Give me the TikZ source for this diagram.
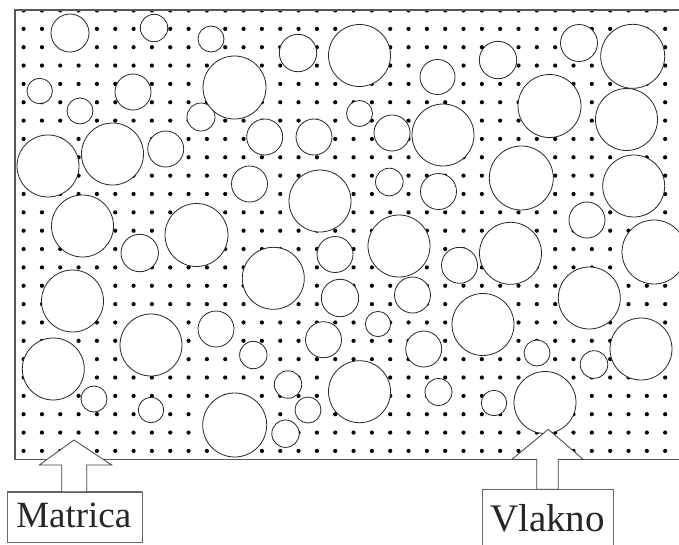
\documentclass[tikz,border=0pt]{standalone}
\usepackage{fontspec}
\setmainfont{Liberation Serif}
\begin{document}
\begin{tikzpicture}[x=1pt,y=-1pt,
  fib/.style={draw=black!85, fill=white, line width=0.8pt},
  border/.style={draw=black!65, line width=1.2pt},
  labelbox/.style={draw=black!60, fill=white, line width=1pt, inner sep=0pt},
  blockarrow/.style={draw=black!75, fill=white, line width=0.8pt, line join=miter},
  labeltext/.style={inner sep=0pt, text=black!85}]
\useasboundingbox (0,0) rectangle (679,544);
% dot grid (matrix)
\begin{scope}
  \clip (15,10) rectangle (679,459.5);
  \foreach \i in {0,...,35}{
    \foreach \j in {0,...,24}{
      \fill (23.6+18.33*\i, 10.5+18.35*\j) circle (2.1pt);
    }
  }
\end{scope}
% fibres
\foreach \cx/\cy/\r in {
70/33/19, 154/28/13.7, 211/39/13, 298/53/18.7, 359.5/55.5/31, 437.5/77/17.5, 498/60/18.7, 579/43/18.5, 632.7/56.3/32,
39.7/91/12.7, 80/111/13, 133/92/18, 201/117/14, 234.5/87.5/31.5, 264.7/137/18, 314/137/18, 359.5/113.5/13, 392/133/18, 443/135/31, 549.5/106/31.5, 626.5/119.5/31,
48/166/31, 112.5/154/31, 165.7/149/18, 249.5/184/18, 320/201/31, 389.3/182/13.8, 438.5/191.5/18, 521.3/178/32, 633.7/186/31,
82.5/226/31, 139.7/253/18.7, 196.5/235/31.5, 273.3/278.3/31, 335/254.5/18, 399/246/31, 459.5/265.3/18, 510.5/253.3/31, 587/220/18, 654/252/32,
72.5/301/31, 151/345/31, 216/329/18, 323.5/339.7/18, 340/298/18.7, 378/324/12.6, 412.5/295/18, 423.7/349/18, 483/324.5/31, 589.3/298/31, 641/349/31,
53.3/369/31, 94/399/13, 151/410/12.7, 234.7/425/32, 253.3/355/13.7, 288/384.5/13.7, 308/410/13, 285.5/433.7/13.7, 359.5/391.7/31, 438.5/392/13.5, 494/403/12.7, 537/353/13, 545/402.5/31, 594/364.5/13.8}{
  \draw[fib] (\cx,\cy) circle[radius=\r pt];
}
% border of the composite (open on the right)
\draw[border] (690,10) -- (15,10) -- (15,459.5) -- (690,459.5);
% label boxes
\node[labelbox, minimum width=134.4pt, minimum height=50pt, anchor=north west] (matbox) at (7.3,491.7) {};
\node[labeltext, anchor=base, font=\fontsize{37}{40}\selectfont] (mattext) at (73.8,527.3) {Matrica};
\node[labelbox, minimum width=131pt, minimum height=62pt, anchor=north west] (vlbox) at (481.7,489.3) {};
\node[labeltext, anchor=base, font=\fontsize{39}{42}\selectfont] (vltext) at (547.5,531.7) {Vlakno};
% block arrows
\coordinate (mattip) at (74,440);
\coordinate (vltip) at (548.3,429.3);
\draw[blockarrow] (mattip) -- (111.7,465) -- (86.7,465) -- (86.7,491.7) -- (61.7,491.7) -- (61.7,465) -- (39.3,465) -- cycle;
\draw[blockarrow] (vltip) -- (583.3,459.5) -- (558.3,459.5) -- (558.3,489.3) -- (536.7,489.3) -- (536.7,459.5) -- (511.7,459.5) -- cycle;
% redraw box tops where the shafts join
\draw[draw=black!60, line width=1pt] (7.3,491.7) -- (61.7,491.7) (86.7,491.7) -- (141.7,491.7);
\draw[draw=black!60, line width=1pt] (481.7,489.3) -- (536.7,489.3) (558.3,489.3) -- (612.7,489.3);
\end{tikzpicture}
\end{document}
